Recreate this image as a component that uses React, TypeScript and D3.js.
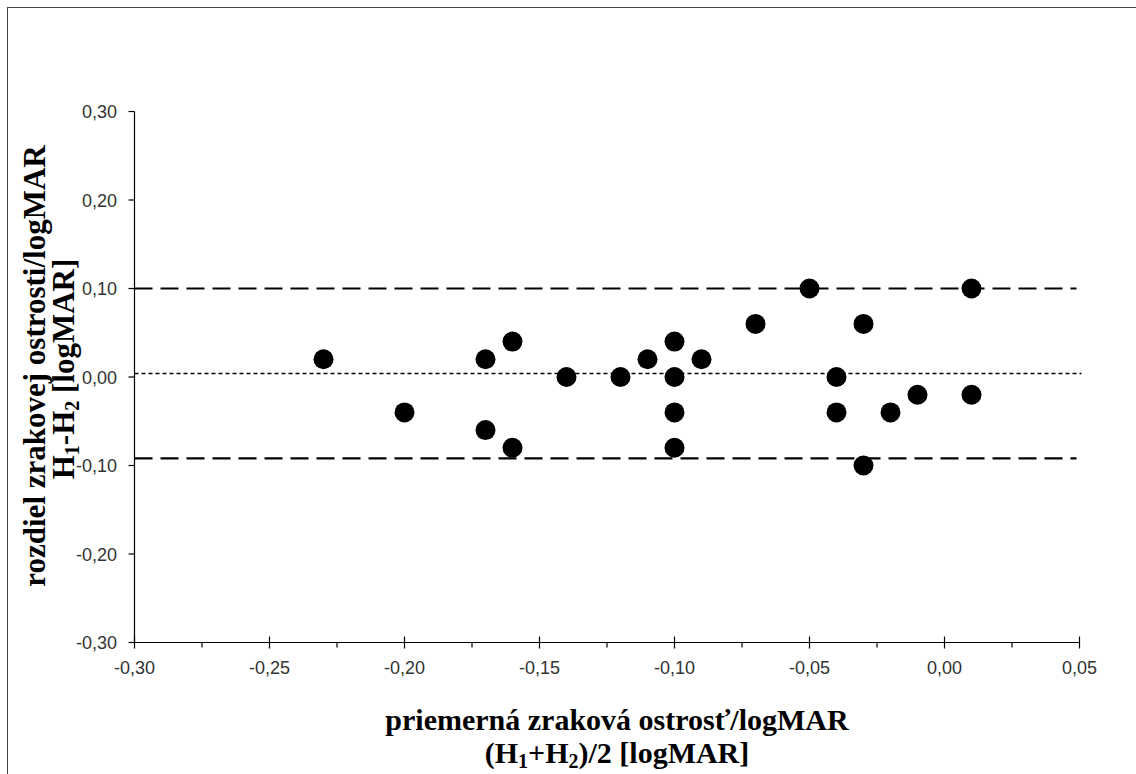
import React, { useEffect, useRef } from 'react'
import * as d3 from 'd3'

// mean of (H1+H2)/2 and difference H1-H2, logMAR
const meanValues = [-0.23, -0.20, -0.17, -0.17, -0.16, -0.16, -0.14, -0.12, -0.11, -0.10, -0.10, -0.10, -0.10, -0.09, -0.07, -0.05, -0.04, -0.04, -0.03, -0.03, -0.02, -0.01, 0.01, 0.01]
const diffValues = [0.02, -0.04, 0.02, -0.06, 0.04, -0.08, 0.00, 0.00, 0.02, 0.04, 0.00, -0.04, -0.08, 0.02, 0.06, 0.10, 0.00, -0.04, 0.06, -0.10, -0.04, -0.02, 0.10, -0.02]

const xTicks = [-0.30, -0.25, -0.20, -0.15, -0.10, -0.05, 0.00, 0.05]
const xMinorTicks = [-0.275, -0.225, -0.175, -0.125, -0.075, -0.025, 0.025]
const yTicks = [-0.30, -0.20, -0.10, 0.00, 0.10, 0.20, 0.30]

const meanDiff = 0.004
const upperLimit = 0.10
const lowerLimit = -0.092

const fmt = (v: number) => v.toFixed(2).replace('.', ',')

function drawChart(el: SVGSVGElement) {
    const svg = d3.select(el)
    svg.selectAll('*').remove()

    const x = d3.scaleLinear().domain([-0.30, 0.05]).range([134.5, 1079.5])
    const y = d3.scaleLinear().domain([-0.30, 0.30]).range([642.5, 111.5])

    // outer frame
    svg.append('rect')
        .attr('x', 7.5).attr('y', 7.5)
        .attr('width', 1200).attr('height', 900)
        .attr('fill', 'none').attr('stroke', '#444').attr('stroke-width', 1)

    // reference lines
    const refs = [
        { v: upperLimit, dash: '18,8', w: 2.2 },
        { v: lowerLimit, dash: '18,8', w: 2.2 },
        { v: meanDiff, dash: '4,3', w: 1.6 },
    ]
    svg.append('g').selectAll('line').data(refs).enter().append('line')
        .attr('x1', x(-0.30)).attr('x2', d => d.dash === '4,3' ? x(0.05) + 2 : x(0.05) - 3)
        .attr('y1', d => y(d.v)).attr('y2', d => y(d.v))
        .attr('stroke', '#000')
        .attr('stroke-width', d => d.w)
        .attr('stroke-dasharray', d => d.dash)

    // axes
    const ax = svg.append('g').attr('stroke', '#000').attr('stroke-width', 1.2)
    ax.append('line').attr('x1', x(-0.30)).attr('x2', x(0.05)).attr('y1', y(-0.30)).attr('y2', y(-0.30))
    ax.append('line').attr('x1', x(-0.30)).attr('x2', x(-0.30)).attr('y1', y(0.30)).attr('y2', y(-0.30))
    ax.selectAll('.xt').data(xTicks).enter().append('line')
        .attr('x1', d => x(d)).attr('x2', d => x(d))
        .attr('y1', y(-0.30) - 6).attr('y2', y(-0.30) + 6)
    ax.selectAll('.xm').data(xMinorTicks).enter().append('line')
        .attr('x1', d => x(d)).attr('x2', d => x(d))
        .attr('y1', y(-0.30)).attr('y2', y(-0.30) + 5)
    ax.selectAll('.yt').data(yTicks).enter().append('line')
        .attr('x1', x(-0.30) - 6).attr('x2', x(-0.30))
        .attr('y1', d => y(d)).attr('y2', d => y(d))

    const tickFont = 'Liberation Sans, Arial, sans-serif'
    svg.append('g').selectAll('text').data(xTicks).enter().append('text')
        .attr('x', d => x(d)).attr('y', y(-0.30) + 31)
        .attr('text-anchor', 'middle')
        .attr('font-family', tickFont).attr('font-size', 18).attr('fill', '#333')
        .text(d => fmt(d))
    svg.append('g').selectAll('text').data(yTicks).enter().append('text')
        .attr('x', 117).attr('y', d => y(d) + 6.5)
        .attr('text-anchor', 'end')
        .attr('font-family', tickFont).attr('font-size', 18).attr('fill', '#333')
        .text(d => fmt(d))

    // points
    svg.append('g').selectAll('circle').data(meanValues).enter().append('circle')
        .attr('cx', d => x(d))
        .attr('cy', (d, i) => y(diffValues[i]))
        .attr('r', 10)
        .attr('fill', '#000')

    // titles
    const titleFont = 'Liberation Serif, Times New Roman, serif'
    const xt = svg.append('text')
        .attr('text-anchor', 'middle')
        .attr('font-family', titleFont).attr('font-weight', 'bold').attr('font-size', 30).attr('fill', '#000')
    xt.append('tspan').attr('x', 617).attr('y', 730).text('priemerná zraková ostrosť/logMAR')
    const l2 = xt.append('tspan').attr('x', 617).attr('y', 763)
    l2.append('tspan').text('(H')
    l2.append('tspan').attr('font-size', 20).attr('dy', 5).text('1')
    l2.append('tspan').attr('dy', -5).text('+H')
    l2.append('tspan').attr('font-size', 20).attr('dy', 5).text('2')
    l2.append('tspan').attr('dy', -5).text(')/2 [logMAR]')

    const yt = svg.append('text')
        .attr('transform', 'rotate(-90)')
        .attr('text-anchor', 'middle')
        .attr('font-family', titleFont).attr('font-weight', 'bold').attr('font-size', 31).attr('fill', '#000')
    yt.append('tspan').attr('x', -366).attr('y', 45).text('rozdiel zrakovej ostrosti/logMAR')
    const m2 = yt.append('tspan').attr('x', -369).attr('y', 74)
    m2.append('tspan').text('H')
    m2.append('tspan').attr('font-size', 20).attr('dy', 5).text('1')
    m2.append('tspan').attr('dy', -5).text('-H')
    m2.append('tspan').attr('font-size', 20).attr('dy', 5).text('2')
    m2.append('tspan').attr('dy', -5).text(' [logMAR]')
}

const App = () => {
    const ref = useRef<SVGSVGElement>(null)
    useEffect(() => {
        if (ref.current) drawChart(ref.current)
    }, [])
    return (
        <svg ref={ref} width={1136} height={774}
            style={{ position: 'absolute', left: 0, top: 0, background: '#fff' }} />
    )
}

export default App
